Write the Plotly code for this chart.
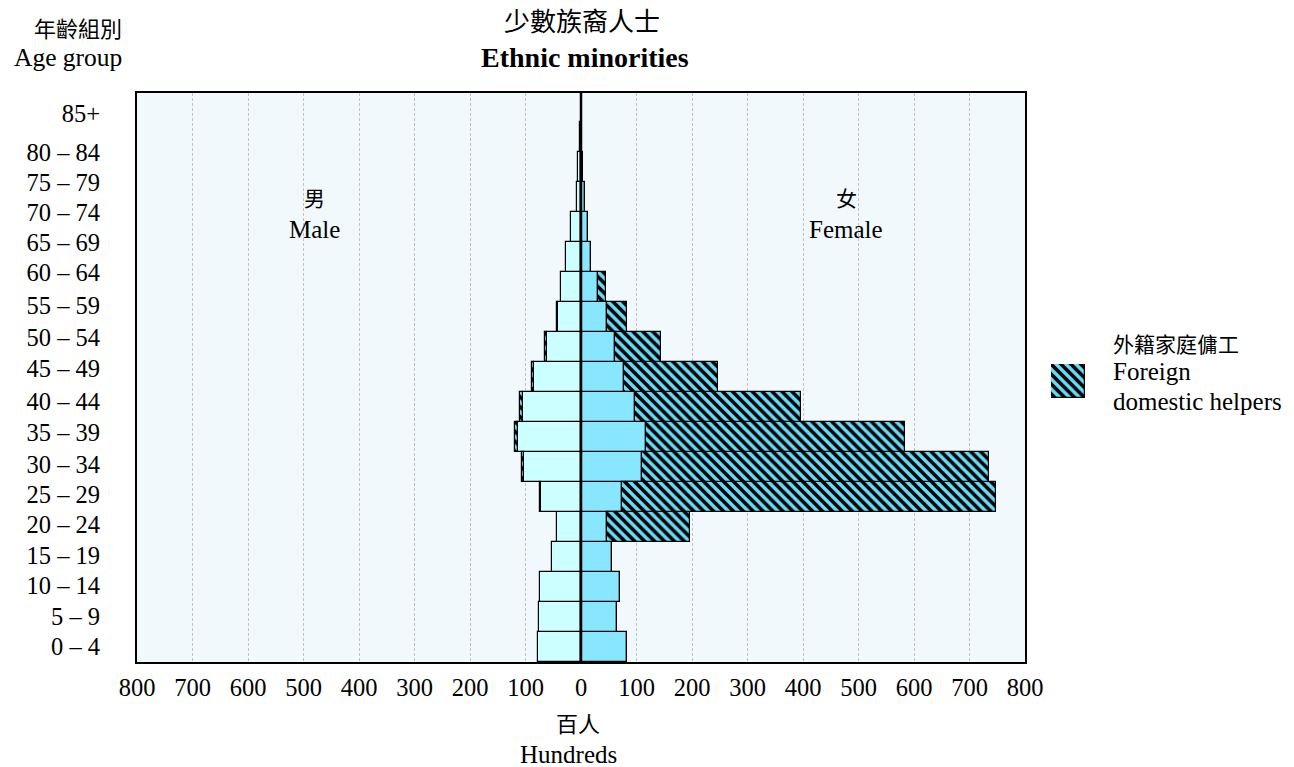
import plotly.graph_objects as go

# ---------------- data (hundreds of persons) ----------------
age_groups = ["0 – 4", "5 – 9", "10 – 14", "15 – 19", "20 – 24", "25 – 29",
              "30 – 34", "35 – 39", "40 – 44", "45 – 49", "50 – 54", "55 – 59",
              "60 – 64", "65 – 69", "70 – 74", "75 – 79", "80 – 84", "85+"]
male_excl_fdh = [77, 75, 74, 52, 44, 72, 102, 114, 104, 84, 62, 42, 36, 27, 18, 7, 5, 1]
male_fdh = [0, 0, 0, 0, 0, 2, 5, 5, 6, 5, 3, 1, 0, 0, 0, 0, 0, 0]
female_excl_fdh = [82, 65, 71, 55, 46, 73, 110, 117, 98, 77, 62, 46, 30, 18, 13, 8, 4, 1]
female_fdh = [0, 0, 0, 0, 151, 674, 626, 467, 298, 169, 82, 36, 15, 0, 0, 0, 0, 0]
x_tick_values = [-800, -700, -600, -500, -400, -300, -200, -100, 0,
                 100, 200, 300, 400, 500, 600, 700, 800]
x_tick_labels = [str(abs(v)) for v in x_tick_values]

# ---------------- styling ----------------
W, H = 1294, 767
SERIF = "Liberation Serif, 'Noto Sans CJK TC', serif"
CJK = "'Noto Sans CJK TC', sans-serif"
MALE_COL = "#CCFFFF"
FEMALE_COL = "#88E6FF"
HATCH_BG = "#6ADCF8"
LINE = dict(color="black", width=1.2)
hatch = dict(shape="\\", fgcolor="black", bgcolor=HATCH_BG, size=7,
             solidity=0.5, fillmode="replace")


def px_x(p):
    return p / W


def px_y(p):
    return 1 - p / H


ypos = [i + 0.5 for i in range(len(age_groups))]

fig = go.Figure()
fig.add_trace(go.Bar(y=ypos, x=[-v for v in male_excl_fdh], orientation="h",
                     marker=dict(color=MALE_COL, line=LINE), showlegend=False))
fig.add_trace(go.Bar(y=ypos, x=[-v for v in male_fdh], orientation="h",
                     marker=dict(color=HATCH_BG, line=LINE, pattern=hatch),
                     showlegend=False))
fig.add_trace(go.Bar(y=ypos, x=female_excl_fdh, orientation="h",
                     marker=dict(color=FEMALE_COL, line=LINE), showlegend=False))
fig.add_trace(go.Bar(y=ypos, x=female_fdh, orientation="h",
                     marker=dict(color=HATCH_BG, line=LINE, pattern=hatch),
                     showlegend=False))

# legend swatch on its own tiny axes
fig.add_trace(go.Bar(x=[0], y=[1], width=[1], xaxis="x2", yaxis="y2",
                     marker=dict(color=HATCH_BG, line=LINE, pattern=hatch),
                     showlegend=False, hoverinfo="skip"))

# tick label positions (y units, one unit per age group)
tick_pos = [0.53, 1.53, 2.55, 3.55, 4.6, 5.57, 6.6, 7.65, 8.7, 9.77, 10.82,
            11.88, 12.97, 13.97, 14.97, 15.97, 17.0, 18.3]

plot_top, plot_bottom, plot_left, plot_right = 93, 662, 137, 1025
y_top_val = (plot_bottom - plot_top) / 30.0

fig.update_layout(
    width=W, height=H, autosize=False,
    margin=dict(l=0, r=0, t=0, b=0, autoexpand=False),
    paper_bgcolor="white",
    plot_bgcolor="#F1F9FC",
    barmode="relative",
    bargap=0,
    font=dict(family=SERIF, size=24, color="black"),
    xaxis=dict(domain=[px_x(plot_left), px_x(plot_right)], range=[-800, 800],
               tickvals=x_tick_values, ticktext=x_tick_labels,
               showgrid=True, gridcolor="#C2C2C2", griddash="3px,2px", gridwidth=1,
               zeroline=False, showline=True, linecolor="black", linewidth=2,
               mirror=True, ticks="", ticklabelstandoff=3,
               tickfont=dict(family=SERIF, size=24.5), fixedrange=True),
    yaxis=dict(domain=[px_y(plot_bottom), px_y(plot_top)], range=[0, y_top_val],
               tickvals=tick_pos, ticktext=age_groups,
               showgrid=False, zeroline=False, showline=True, linecolor="black",
               linewidth=2, mirror=True, ticks="", ticklabelstandoff=30,
               tickfont=dict(family=SERIF, size=24.5), fixedrange=True),
    xaxis2=dict(domain=[px_x(1051), px_x(1085)], range=[-0.5, 0.5],
                visible=False, anchor="y2", fixedrange=True),
    yaxis2=dict(domain=[px_y(398), px_y(364)], range=[0, 1],
                visible=False, anchor="x2", fixedrange=True),
)

fig.add_shape(type="line", x0=0, x1=0, xref="x", y0=0, y1=1, yref="y domain",
              line=dict(color="black", width=2.5), layer="above")


def ann(text, x, y, size=24, family=SERIF, xanchor="center", bold=False):
    fig.add_annotation(text=f"<b>{text}</b>" if bold else text,
                       x=px_x(x), y=px_y(y), xref="paper", yref="paper",
                       xanchor=xanchor, yanchor="middle", showarrow=False,
                       font=dict(family=family, size=size, color="black"))


ann("少數族裔人士", 582, 19, size=26, family=CJK)
ann("Ethnic minorities", 585, 58, size=28, bold=True)
ann("年齡組別", 124, 27, size=22, family=CJK, xanchor="right")
ann("Age group", 124, 58, size=25.5, xanchor="right")
ann("男", 314, 197, size=21, family=CJK)
ann("Male", 314, 229, size=25)
ann("女", 846, 197, size=21, family=CJK)
ann("Female", 846, 229, size=25)
ann("百人", 578, 722, size=22, family=CJK)
ann("Hundreds", 568, 754, size=25)
ann("外籍家庭傭工", 1111, 343, size=21, family=CJK, xanchor="left")
ann("Foreign", 1111, 371, size=25, xanchor="left")
ann("domestic helpers", 1111, 401, size=25, xanchor="left")

post = (
    "document.documentElement.style.margin='0';"
    "document.body.style.margin='0';"
    "document.body.style.overflow='hidden';"
    "var gd=document.getElementById('{plot_id}');"
    "gd.style.width='1294px';gd.style.height='767px';"
    "Plotly.relayout(gd,{width:1294,height:767});"
)
fig.write_html("out.html",
               config={"responsive": False, "displayModeBar": False},
               post_script=post)
